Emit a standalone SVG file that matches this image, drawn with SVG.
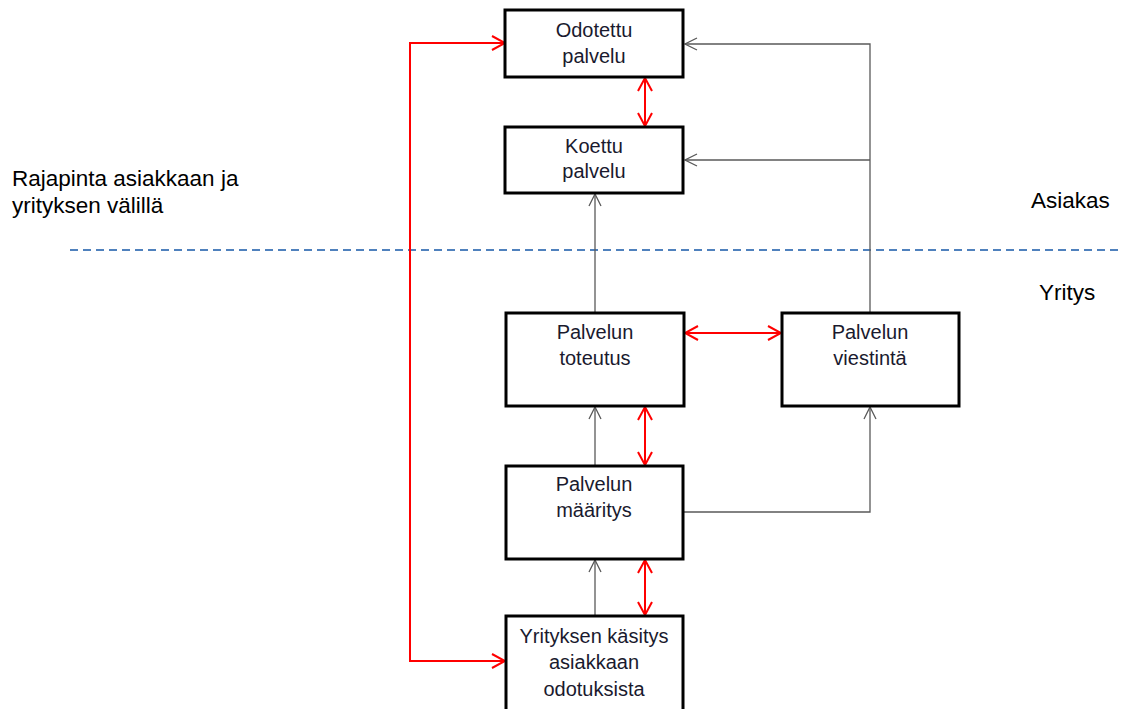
<svg xmlns="http://www.w3.org/2000/svg" width="1121" height="709" viewBox="0 0 1121 709">
  <style>
    .box { fill: #ffffff; stroke: #000000; stroke-width: 3; }
    .txt { font-family: "Liberation Sans", Arial, sans-serif; font-size: 20px; fill: #1a1a2e; text-anchor: middle; }
    .side { font-family: "Liberation Sans", Arial, sans-serif; font-size: 22.5px; fill: #000000; }
    .red { fill: none; stroke: #ff0000; stroke-width: 2; }
    .gray { fill: none; stroke: #595959; stroke-width: 1.3; }
    .dash { fill: none; stroke: #4f81bd; stroke-width: 1.8; stroke-dasharray: 8 5; }
  </style>
  <defs>
    <marker id="redHead" markerUnits="userSpaceOnUse" markerWidth="16" markerHeight="18" refX="13" refY="7" orient="auto-start-reverse" viewBox="-1 -1 16 18">
      <path d="M0,0 L13,7 L0,14" fill="none" stroke="#ff0000" stroke-width="2"/>
    </marker>
    <marker id="grayHead" markerUnits="userSpaceOnUse" markerWidth="14" markerHeight="14" refX="12" refY="6" orient="auto" viewBox="-1 -1 14 14">
      <path d="M0,0 L12,6 L0,12" fill="none" stroke="#595959" stroke-width="1.3"/>
    </marker>
  </defs>

  <rect width="1121" height="709" fill="#ffffff"/>

  <!-- boundary between customer and company -->
  <line class="dash" x1="70" y1="250" x2="1119" y2="250"/>
  <text class="side" x="12" y="186">Rajapinta asiakkaan ja</text>
  <text class="side" x="12" y="213">yrityksen välillä</text>
  <text class="side" x="1031" y="208">Asiakas</text>
  <text class="side" x="1039" y="300">Yritys</text>

  <g id="connectors">
    <!-- red loop on the left -->
    <polyline class="red" points="505,43 410,43 410,661 505,661" marker-start="url(#redHead)" marker-end="url(#redHead)"/>
    <!-- red two-way links -->
    <line class="red" x1="645" y1="78" x2="645" y2="126" marker-start="url(#redHead)" marker-end="url(#redHead)"/>
    <line class="red" x1="645" y1="407" x2="645" y2="465" marker-start="url(#redHead)" marker-end="url(#redHead)"/>
    <line class="red" x1="645" y1="560" x2="645" y2="615" marker-start="url(#redHead)" marker-end="url(#redHead)"/>
    <line class="red" x1="685" y1="333" x2="781" y2="333" marker-start="url(#redHead)" marker-end="url(#redHead)"/>
    <!-- gray flows -->
    <line class="gray" x1="595" y1="313" x2="595" y2="194" marker-end="url(#grayHead)"/>
    <line class="gray" x1="595" y1="466" x2="595" y2="407" marker-end="url(#grayHead)"/>
    <line class="gray" x1="595" y1="616" x2="595" y2="560" marker-end="url(#grayHead)"/>
    <polyline class="gray" points="684,512 870,512 870,407" marker-end="url(#grayHead)"/>
    <polyline class="gray" points="870,313 870,44 685,44" marker-end="url(#grayHead)"/>
    <line class="gray" x1="870" y1="160" x2="685" y2="160" marker-end="url(#grayHead)"/>
  </g>

  <g id="odotettu">
    <rect class="box" x="505" y="10" width="178" height="67"/>
    <text class="txt" x="594" y="37">Odotettu</text>
    <text class="txt" x="594" y="63">palvelu</text>
  </g>
  <g id="koettu">
    <rect class="box" x="505" y="127" width="178" height="66"/>
    <text class="txt" x="594" y="153">Koettu</text>
    <text class="txt" x="594" y="178">palvelu</text>
  </g>
  <g id="toteutus">
    <rect class="box" x="506" y="313" width="178" height="93"/>
    <text class="txt" x="595" y="339">Palvelun</text>
    <text class="txt" x="595" y="365">toteutus</text>
  </g>
  <g id="viestinta">
    <rect class="box" x="782" y="313" width="177" height="93"/>
    <text class="txt" x="870" y="339">Palvelun</text>
    <text class="txt" x="870" y="365">viestintä</text>
  </g>
  <g id="maaritys">
    <rect class="box" x="506" y="466" width="177" height="93"/>
    <text class="txt" x="594" y="491">Palvelun</text>
    <text class="txt" x="594" y="517">määritys</text>
  </g>
  <g id="kasitys">
    <rect class="box" x="506" y="616" width="177" height="100"/>
    <text class="txt" x="594" y="643">Yrityksen käsitys</text>
    <text class="txt" x="594" y="669">asiakkaan</text>
    <text class="txt" x="594" y="696">odotuksista</text>
  </g>
</svg>
